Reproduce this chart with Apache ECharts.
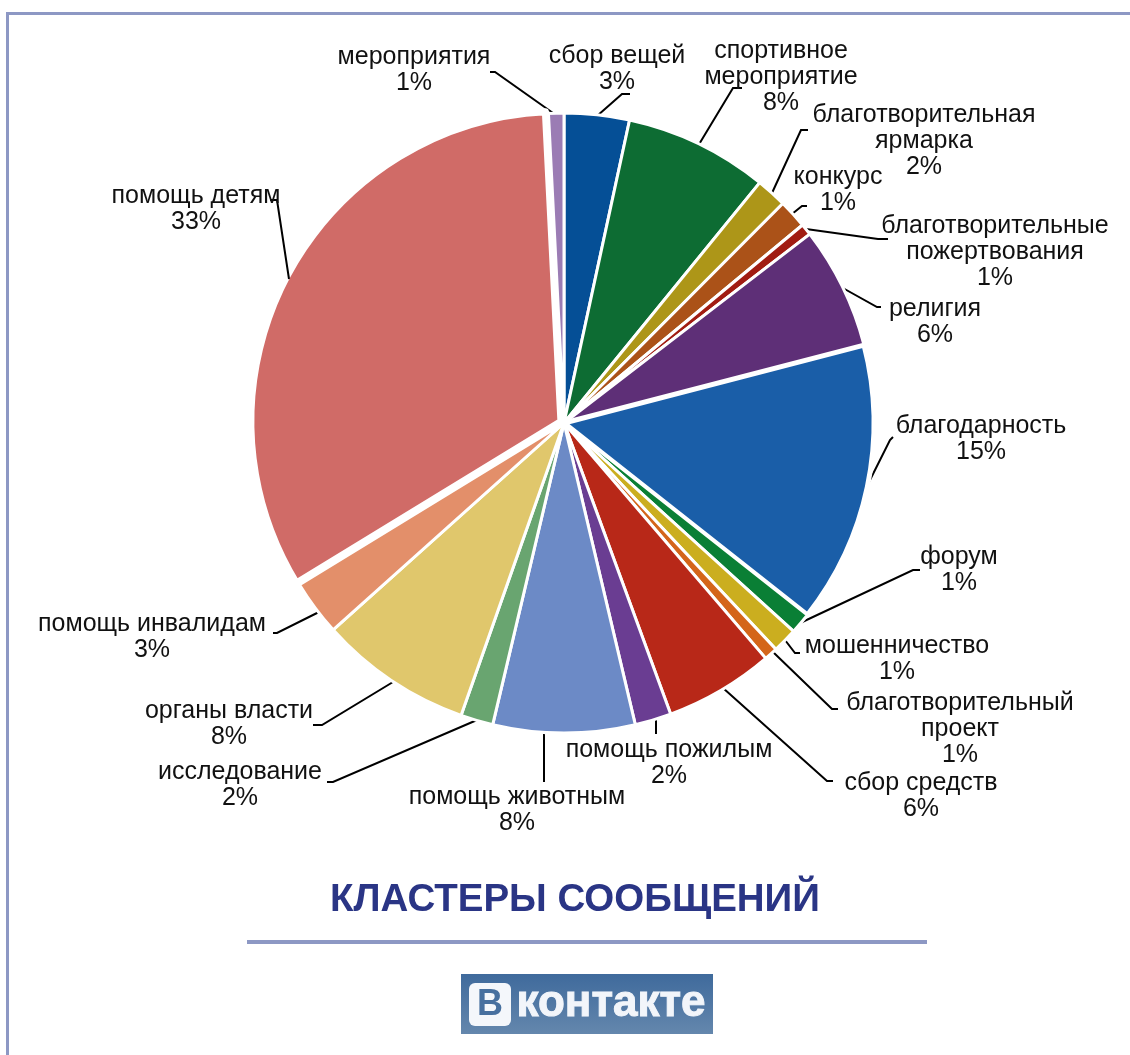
<!DOCTYPE html>
<html><head><meta charset="utf-8">
<style>html,body{margin:0;padding:0;background:#fff}#c{width:1130px;height:1055px}</style>
<script src="https://cdn.jsdelivr.net/npm/echarts@6/dist/echarts.min.js"></script>
</head><body><div id="c"></div>
<script>
const categories = ['сбор вещей','спортивное\nмероприятие','благотворительная\nярмарка','конкурс','благотворительные\nпожертвования','религия','благодарность','форум','мошенничество','благотворительный\nпроект','сбор средств','помощь пожилым','помощь животным','исследование','органы власти','помощь инвалидам','помощь детям','мероприятия'];
const values = [3.4,7.5,1.6,1.5,0.6,6.4,14.7,1.1,1.3,0.7,5.7,1.9,7.4,1.7,8.0,2.9,33.0,0.8];
const percentLabels = ['3%','8%','2%','1%','1%','6%','15%','1%','1%','1%','6%','2%','8%','2%','8%','3%','33%','1%'];
const colors = ['#054f96','#0d6c33','#ad9618','#ab5218','#a11c12','#5e2f77','#1a5ea8','#0a7f35','#cbae1f','#d4651a','#b82818','#6a3d92','#6c8ac6','#69a570','#e0c76c','#e38f6a','#d06b67','#9b7cb4'];
const titleText = 'КЛАСТЕРЫ СООБЩЕНИЙ';

const labelCenters = [[617,69],[781,77],[924,141],[838,190],[995,252],[935,322],[981,439],[959,570],[897,659],[960,729],[921,796],[669,763],[517,810],[240,785],[229,724],[152,637],[196,209],[414,70]];
const leaders = [
 [[597,116],[622,94],[630,94]],[[698,146],[733,88],[742,88]],[[772,193],[801,130],[808,130]],[[792,214],[802,206],[807,206]],[[806,229],[878,239],[888,239]],
 [[841,287],[877,307],[881,307]],[[866,488],[890,440],[893,437]],[[798,624],[913,570],[920,570]],[[785,640],[795,653],[800,653]],[[773,652],[832,709],[838,709]],
 [[723,688],[827,781],[833,781]],[[656,719],[656,734]],[[544,733],[544,782]],[[477,720],[333,782],[327,782]],[[393,682],[322,725],[313,725]],[[321,611],[277,633],[273,633]],
 [[289,279],[277,200],[270,200]],[[553,113],[495,72],[490,72]]];
const explodedIndex = 16;
const wideBorderIndex = 6;

const frame = '#8d98c4';
const font = 'Liberation Sans';
const chart = echarts.init(document.getElementById('c'), null, {renderer:'canvas'});
chart.setOption({
  animation:false,
  backgroundColor:'#fff',
  title:{text:titleText,left:570,top:876,textAlign:'center',
    textStyle:{fontFamily:font,fontWeight:'bold',fontSize:38.5,color:'#2a3585'}},
  graphic:[
    {type:'rect',shape:{x:6,y:12,width:1124,height:3},style:{fill:frame}},
    {type:'rect',shape:{x:6,y:12,width:3,height:1043},style:{fill:frame}},
    {type:'rect',shape:{x:247,y:940,width:680,height:4},style:{fill:frame}},
    {type:'rect',shape:{x:461,y:974,width:252,height:60},
      style:{fill:new echarts.graphic.LinearGradient(0,0,0,1,[{offset:0,color:'#3f6a9c'},{offset:1,color:'#6487ad'}])}},
    {type:'rect',shape:{x:469,y:983,width:42,height:43,r:6},style:{fill:'#f4f7fb'}},
    {type:'text',style:{x:490,y:1005,text:'В',align:'center',verticalAlign:'middle',fill:'#47709f',
      font:'bold 36px "'+font+'"'}},
    {type:'text',style:{x:611,y:1004,text:'контакте',align:'center',verticalAlign:'middle',fill:'#f2f5fa',
      stroke:'#f2f5fa',lineWidth:1,font:'bold 44px "'+font+'"'}},
    {type:'polyline',z:5,shape:{points:leaders[explodedIndex]},style:{stroke:'#000',lineWidth:2,fill:null}},
    {type:'text',z:5,style:{x:labelCenters[explodedIndex][0],y:labelCenters[explodedIndex][1],
      text:categories[explodedIndex]+'\n'+percentLabels[explodedIndex],align:'center',verticalAlign:'middle',
      fill:'#111',font:'25px "'+font+'"',lineHeight:26}}
  ],
  series:[{
    type:'pie',
    center:[564,423],
    radius:[0,310],
    startAngle:90,
    clockwise:true,
    avoidLabelOverlap:false,
    minShowLabelAngle:0,
    selectedMode:'multiple',
    selectedOffset:3.5,
    emphasis:{disabled:true},
    itemStyle:{borderColor:'#fff',borderWidth:3},
    label:{show:true,position:'outer',fontFamily:font,fontSize:25,lineHeight:26,color:'#111',align:'center',
      formatter:p=>p.name+'\n'+percentLabels[p.dataIndex]},
    labelLine:{show:true,smooth:false,length:20,length2:10,lineStyle:{color:'#000',width:2}},
    labelLayout:p=>{
      const c=labelCenters[p.dataIndex];
      return {x:c[0],y:c[1],align:'center',verticalAlign:'middle',labelLinePoints:leaders[p.dataIndex],hideOverlap:false};
    },
    data:categories.map((n,i)=>{
      const d={name:n,value:values[i],itemStyle:{color:colors[i]}};
      if(i===explodedIndex){
        d.selected=true;
        d.label={show:false};
        d.labelLine={show:false};
        d.itemStyle.borderWidth=7;
      }
      if(i===wideBorderIndex){ d.itemStyle.borderWidth=5; }
      return d;
    })
  }]
});
</script></body></html>
